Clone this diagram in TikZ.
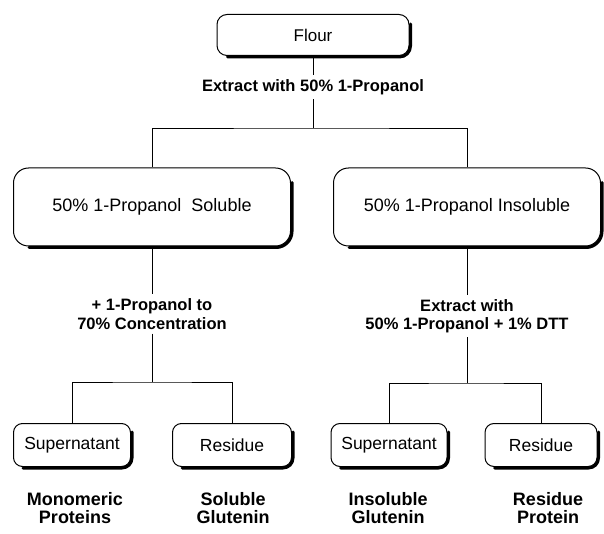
\documentclass[tikz,border=0pt]{standalone}
\usepackage{fontspec}
\setmainfont{Liberation Sans}

\begin{document}
\begin{tikzpicture}[x=1pt,y=1pt,line width=0.8pt,
    box/.style={draw,line width=1pt,fill=white},
    top box/.style={box,rounded corners=10pt,minimum width=192pt,minimum height=41pt,
      font=\fontsize{17}{20}\selectfont},
    big box/.style={box,rounded corners=15pt,minimum height=78pt,
      font=\fontsize{18}{21}\selectfont},
    small box/.style={box,rounded corners=9pt,minimum height=43pt,
      font=\fontsize{17.5}{20}\selectfont},
    shade edge/.style={line width=3pt,line cap=round},
    step label/.style={align=center,inner sep=4pt,font=\bfseries\fontsize{16.5}{18.5}\selectfont},
    yield label/.style={align=center,font=\bfseries\fontsize{18}{17.5}\selectfont}]

  \useasboundingbox (0,0) rectangle (604,533);

  % boxes
  \node[top box] (flour) at (313,498) {Flour};
  \node[big box,minimum width=277pt] (sol) at (152,326) {50\% 1-Propanol\ \ Soluble};
  \node[big box,minimum width=267pt] (insol) at (467,326) {50\% 1-Propanol Insoluble};
  \node[small box,minimum width=117pt] (sup1) at (72,88) {Supernatant};
  \node[small box,minimum width=119pt] (res1) at (232,88) {Residue};
  \node[small box,minimum width=116pt] (sup2) at (389,88) {Supernatant};
  \node[small box,minimum width=112pt] (res2) at (541,88) {Residue};

  % heavy right and bottom edges
  \foreach \b/\r in {flour/10,sol/15,insol/15,sup1/9,res1/9,sup2/9,res2/9}
    \draw[shade edge] ([shift={(\r+1,-1)}]\b.south west)
      -- ([shift={(-\r,-1)}]\b.south east)
      arc[start angle=-90,end angle=0,radius=\r+1]
      -- ([shift={(1,-\r)}]\b.north east);

  % step labels
  \node[step label] (ext1) at (313,446) {Extract with 50\% 1-Propanol};
  \node[step label] (conc) at (152,219) {+ 1-Propanol to\\70\% Concentration};
  \node[step label] (ext2) at (467,217) {Extract with\\50\% 1-Propanol + 1\% DTT};

  % fractions
  \node[yield label] (mono) at (75,25) {Monomeric\\Proteins};
  \node[yield label] (solg) at (233,25) {Soluble\\Glutenin};
  \node[yield label] (insg) at (388,25) {Insoluble\\Glutenin};
  \node[yield label] (resp) at (548,25) {Residue\\Protein};

  % branch points
  \coordinate (split1) at (313,405);
  \coordinate (split2) at (152,151);
  \coordinate (split3) at (467,150);

  \draw (flour) -- (ext1);
  \draw (ext1) -- (split1);
  \draw (sol.north) |- (split1) -| (insol.north);
  \draw (sol) -- (conc);
  \draw (conc) -- (split2);
  \draw (sup1.north) |- (split2) -| (res1.north);
  \draw (insol) -- (ext2);
  \draw (ext2) -- (split3);
  \draw (sup2.north) |- (split3) -| (res2.north);
\end{tikzpicture}
\end{document}
